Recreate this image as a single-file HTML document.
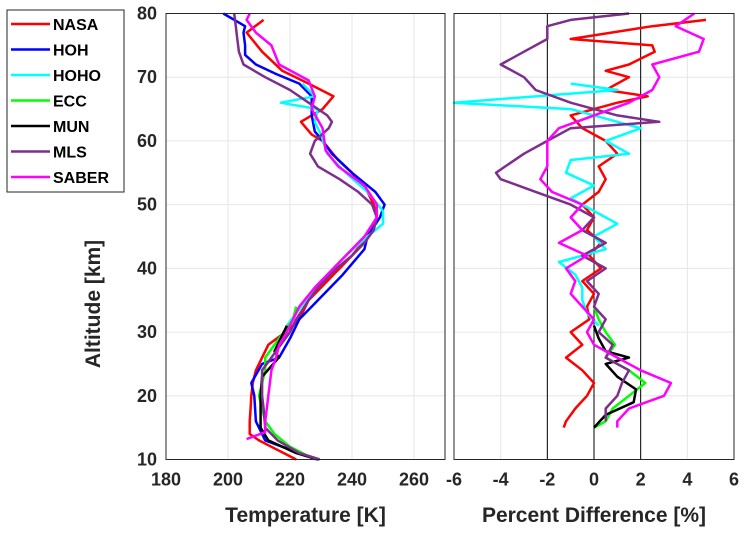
<!DOCTYPE html>
<html><head><meta charset="utf-8"><style>
body{margin:0;background:#fff;}
svg text{font-family:"Liberation Sans",Arial,sans-serif;font-weight:bold;fill:#262626;}
</style></head><body>
<svg id="chart" width="747" height="531" xmlns="http://www.w3.org/2000/svg"></svg>
<script>
// ---- data ----
const seriesNames = ["NASA","HOH","HOHO","ECC","MUN","MLS","SABER"];
const seriesColors = ["#ff0000","#0000ff","#00ffff","#00ff00","#000000","#7e2f8e","#ff00ff"];
const tempAlt = [
 [79,77,74,71,69,67,65,64,63,61,60,57,55,52,50,48,45,42,40,37,35,33,31,30,28,26,24,22,20,18,16,14,13,12,11,10],
 [80,78,77,75,73.5,72,70.5,69,67,64,61.5,60,58,55,52,50,48,45,43,39,34,32,29,26,25,22,20,16,13,11,10],
 [69,68,67,66,65,63,61,58,55,52,49,47,45,42,40,37,35,33,31],
 [34,32,30,28,26,24,22,20,18,16,14,12,10],
 [31,29,27,26,23,20,17,15,13,11,10],
 [80,78,76,74,72,70,68,66,64,63,62,60,58,56,54,52,50,48,46,44,42,40,37,35,32,30,28,26,24,22,20,18,15,13,11,10],
 [80,79,77,75,72,69.5,67,65,62,58.5,56,53,50,48,45,42,40,37,34,30,28,26,24,22,20,18,16,14.3,13.2]
];
const tempVal = [
 [211.5,206,211,217.5,226,234,230.5,227,223.5,227,230.5,235.5,240,245,247,248,245,240,236,230,226,224,221,218.5,213,211,209,208,207.5,207.3,207,207,210,214,218,222],
 [198.5,205.5,205,205.5,205.5,209,215.5,223,227,227,228,230.5,233.5,240,247.5,250.5,249,245,244,237,227,223,220,216.5,211,207.5,208.5,209,212,223,229.5],
 [224,226,228,217,229,228,230,232,238,245,250,250,245,238,234,228,225,222,219],
 [222,221,218,215,212,212,211,210,211,212,215,220,228],
 [219,217,215,216.4,211,210.5,210.5,210.5,213,222,229],
 [202,202.5,203,203.5,205,212,220,226,232,233.5,232.5,228,226.5,229,236,242,246.5,248,247,244,240,235,229,226,222,220,217,214,211,211,211,211.5,212,216,223,229.5],
 [207,206,209,214,216.5,226,228,227,230.5,231.5,235.5,244,248,248,244,238,234,228,223,219,216.5,215.5,214,213.5,213,212.5,212,212,206]
];
const diffAlt = [
 [79,78,76,75,74,72,71,70,68,67,66,64,62,60,58,56,54,52,50,48,46,44,42,40,38,36,34,32,30,28,26,24,22,20,18,16,15],
 [],
 [69,68,66,65,64,62,60,58,57,55,53,51,49,47,45,43,41,39,37,35,33,31],
 [34,32,30,28,26,24,22,20,18,16,15],
 [31,29,27,26,25,23,21,19,17,15],
 [80,79,78,76,74,72,70,68,66,64,63,62,60,58,56,55,54,52,50,48,46,44,42,40,38,36,34,32,30,28,26,24,22,20,18,16],
 [80,78,76,74,72,70,68,66,64,62,60,58,56,54,52,50,48,46,44,42,40,38,36,34,32,30,28,26,24,22,20,18,16,15]
];
const diffVal = [
 [4.8,2.5,-1.0,2.5,2.6,1.5,0.5,1.5,0.5,2.3,1.0,-1.0,-0.5,0.5,1.0,0.2,0.5,0.2,-0.5,0,-0.3,0.3,-0.2,0.3,-0.5,0,-0.3,-0.2,-1.0,-0.5,-1.2,-0.5,0,-0.3,-0.8,-1.2,-1.3],
 [],
 [-1.0,1.0,-6,-1,0,2,0.5,1.5,-1.0,-1.2,0,-1,0,1,0,0.5,-1.5,-0.8,-0.5,-0.5,-0.3,0.2],
 [0,0.2,0.5,0.9,0.5,1.5,2.2,1.5,0.8,0.5,0],
 [0,0.2,0.5,1.5,0.5,1,1.8,1.7,0.5,0],
 [1.5,-1.0,-2.0,-2.0,-3.0,-4.0,-3.0,-2.5,-1.0,1.0,2.8,-1,-2,-3,-3.8,-4.2,-4,-2.5,-1.0,0,-0.5,0.5,-0.5,0.5,-0.3,0.2,0,0.5,0.2,0.8,0.5,1.5,1.2,1.0,0.5,0.5],
 [4.3,3.5,4.7,4.5,2.5,2.8,2.5,1.5,0,-1.5,-2.0,-2.0,-2.0,-2.3,-1.8,-0.5,-1.0,-0.5,-1.5,-0.3,-1.2,-0.8,-1.0,-0.5,0,-0.3,0,1,2,3.3,3,1.5,1,1]
];
const leftTicks = [180,200,220,240,260];
const rightTicks = [-6,-4,-2,0,2,4,6];
const yTicks = [10,20,30,40,50,60,70,80];

// ---- layout ----
const NS="http://www.w3.org/2000/svg";
const svg=document.getElementById('chart');
const yTop=13.5,yBot=459.5;
const yS=a=>yBot-(a-10)/70*(yBot-yTop);
const L={x0:166,x1:445,min:180,max:270};
const R={x0:454,x1:734,min:-6,max:6};
const xS=(p,v)=>p.x0+(v-p.min)/(p.max-p.min)*(p.x1-p.x0);
function el(t,a,parent){const e=document.createElementNS(NS,t);for(const k in a)e.setAttribute(k,a[k]);(parent||svg).appendChild(e);return e;}

function panel(p,ticks,label,name,alts,vals){
  const g=el('g',{});
  
  
  ticks.forEach(t=>{const x=xS(p,t);
    const l=el('line',{x1:x,x2:x,y1:yTop,y2:yBot,stroke:'#e6e6e6','stroke-width':1},g);
    
    const tx=el('text',{x:x,y:yBot+26,'text-anchor':'middle','font-size':18},g);tx.textContent=t;
    });
  yTicks.forEach(t=>{const y=yS(t);
    const l=el('line',{x1:p.x0,x2:p.x1,y1:y,y2:y,stroke:'#e6e6e6','stroke-width':1},g);
    });
  if(name==='diff'){[-2,0,2].forEach(v=>{const x=xS(p,v);
    const l=el('line',{x1:x,x2:x,y1:yTop,y2:yBot,stroke:'#000','stroke-width':1},g);
    });}
  alts.forEach((al,i)=>{if(!al.length)return;
    const pts=al.map((a,j)=>xS(p,vals[i][j]).toFixed(1)+','+yS(a).toFixed(1)).join(' ');
    const pl=el('polyline',{points:pts,fill:'none',stroke:seriesColors[i],'stroke-width':2.5,'stroke-linejoin':'round'},g);
    
    });
  const b=el('rect',{x:p.x0,y:yTop,width:p.x1-p.x0,height:yBot-yTop,fill:'none',stroke:'#262626','stroke-width':1},g);
  
  const xl=el('text',{x:(p.x0+p.x1)/2,y:522,'text-anchor':'middle','font-size':21},g);xl.textContent=label;
  
}
panel(L,leftTicks,'Temperature [K]','temp',tempAlt,tempVal);
panel(R,rightTicks,'Percent Difference [%]','diff',diffAlt,diffVal);
yTicks.forEach(t=>{const tx=el('text',{x:157,y:yS(t)+6,'text-anchor':'end','font-size':18});tx.textContent=t;
  });
const yl=el('text',{x:0,y:0,'text-anchor':'middle','font-size':21,transform:'translate(100,304) rotate(-90)'});
yl.textContent='Altitude [km]';

// legend
const lg=el('g',{});

el('rect',{x:7,y:10,width:117,height:182,fill:'#fff',stroke:'#262626','stroke-width':1},lg);
seriesNames.forEach((n,i)=>{const y=24+i*25.5;
  const e=el('g',{},lg);
  
  el('line',{x1:11,x2:50,y1:y,y2:y,stroke:seriesColors[i],'stroke-width':2.5},e);
  const t=el('text',{x:53,y:y+6,'font-size':16},e);t.textContent=n;t.style.fill='#000';});
</script>
</body></html>
